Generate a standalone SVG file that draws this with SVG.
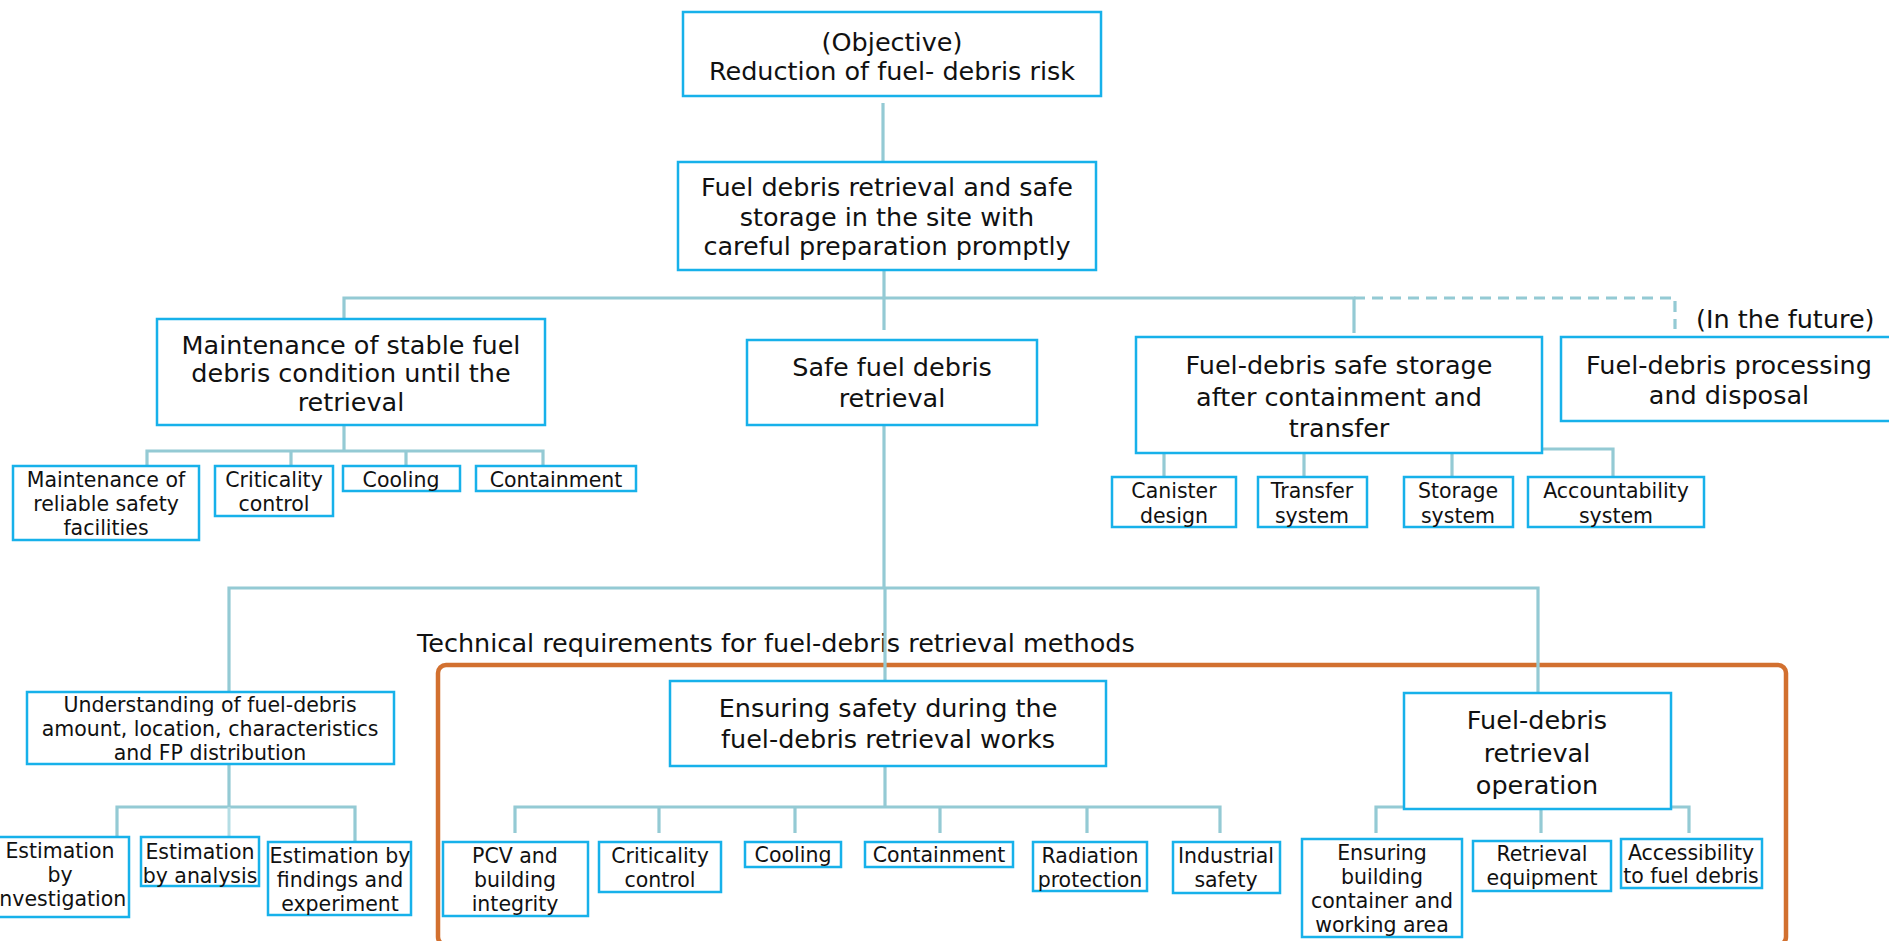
<svg xmlns="http://www.w3.org/2000/svg" width="1889" height="941" viewBox="0 0 1889 941">
  <style>
    .box { fill: #ffffff; stroke: #17b1ea; stroke-width: 2.5; }
    .t { font-family: "DejaVu Sans", Verdana, sans-serif; fill: #111111; text-anchor: middle; }
    .big { font-size: 25.5px; }
    .sm { font-size: 20.5px; }
    .ln { fill: none; stroke: #94cad4; stroke-width: 3.2; }
    .ln2 { fill: none; stroke: #b4dde4; stroke-width: 3; }
    .dash { fill: none; stroke: #94cad4; stroke-width: 3.2; stroke-dasharray: 11 7; }
    .frame { fill: none; stroke: #d2702f; stroke-width: 4.5; }
  </style>

  <!-- technical requirements frame -->
  <rect class="frame" x="438" y="665" width="1348" height="280" rx="8"/>
  <text class="t big" x="417" y="652" style="text-anchor:start">Technical requirements for fuel-debris retrieval methods</text>

  <!-- connectors -->
  <g id="connectors">
    <path class="ln" d="M883 103 V162"/>
    <path class="ln" d="M884 270 V330"/>
    <path class="ln" d="M344 319 V298 H1354 V333"/>
    <path class="dash" d="M1354 298 H1675 V329"/>
    <!-- stable condition branch -->
    <path class="ln" d="M344 425 V451"/>
    <path class="ln" d="M147 466 V451 H543 V466"/>
    <path class="ln" d="M291 451 V466 M406 451 V466"/>
    <!-- storage branch -->
    <path class="ln" d="M1164 453 V477 M1304 453 V477 M1452 453 V477"/>
    <path class="ln" d="M1542 449 H1613 V477"/>
    <!-- retrieval branch -->
    <path class="ln" d="M884 425 V588"/>
    <path class="ln" d="M885 588 V681"/>
    <path class="ln" d="M229 692 V588 H1538 V693"/>
    <!-- understanding branch -->
    <path class="ln" d="M229 764 V807"/>
    <path class="ln" d="M117 837 V807 H355 V842"/>
    <path class="ln2" d="M229 807 V837"/>
    <!-- safety branch -->
    <path class="ln" d="M885 766 V807"/>
    <path class="ln" d="M515 833 V807 H1220 V833"/>
    <path class="ln" d="M659 807 V833 M795 807 V833 M940 807 V833 M1087 807 V833"/>
    <!-- operation branch -->
    <path class="ln" d="M1376 833 V807 H1689 V833"/>
    <path class="ln" d="M1541 807 V833"/>
  </g>

  <g id="objective">
    <rect class="box" x="683" y="12" width="418" height="84"/>
    <text class="t big" x="892" y="51">(Objective)</text>
    <text class="t big" x="892" y="80">Reduction of fuel- debris risk</text>
  </g>

  <g id="retrieval-and-storage">
    <rect class="box" x="678" y="162" width="418" height="108"/>
    <text class="t big" x="887" y="196">Fuel debris retrieval and safe</text>
    <text class="t big" x="887" y="226">storage in the site with</text>
    <text class="t big" x="887" y="255">careful preparation promptly</text>
  </g>

  <g id="stable-condition">
    <rect class="box" x="157" y="319" width="388" height="106"/>
    <text class="t big" x="351" y="354">Maintenance of stable fuel</text>
    <text class="t big" x="351" y="382">debris condition until the</text>
    <text class="t big" x="351" y="411">retrieval</text>
  </g>

  <g id="safe-retrieval">
    <rect class="box" x="747" y="340" width="290" height="85"/>
    <text class="t big" x="892" y="376">Safe fuel debris</text>
    <text class="t big" x="892" y="407">retrieval</text>
  </g>

  <g id="safe-storage">
    <rect class="box" x="1136" y="337" width="406" height="116"/>
    <text class="t big" x="1339" y="374">Fuel-debris safe storage</text>
    <text class="t big" x="1339" y="406">after containment and</text>
    <text class="t big" x="1339" y="437">transfer</text>
  </g>

  <g id="processing">
    <text class="t big" x="1696" y="328" style="text-anchor:start">(In the future)</text>
    <rect class="box" x="1561" y="337" width="336" height="84"/>
    <text class="t big" x="1729" y="374">Fuel-debris processing</text>
    <text class="t big" x="1729" y="404">and disposal</text>
  </g>

  <!-- children of the stable-condition node -->
  <g id="reliable-facilities">
    <rect class="box" x="13" y="466" width="186" height="74"/>
    <text class="t sm" x="106" y="487">Maintenance of</text>
    <text class="t sm" x="106" y="511">reliable safety</text>
    <text class="t sm" x="106" y="535">facilities</text>
  </g>
  <g id="criticality-1">
    <rect class="box" x="215" y="466" width="118" height="50"/>
    <text class="t sm" x="274" y="487">Criticality</text>
    <text class="t sm" x="274" y="511">control</text>
  </g>
  <g id="cooling-1">
    <rect class="box" x="343" y="466" width="117" height="25"/>
    <text class="t sm" x="401" y="487">Cooling</text>
  </g>
  <g id="containment-1">
    <rect class="box" x="476" y="466" width="160" height="25"/>
    <text class="t sm" x="556" y="487">Containment</text>
  </g>

  <!-- children of the storage node -->
  <g id="canister">
    <rect class="box" x="1112" y="477" width="124" height="50"/>
    <text class="t sm" x="1174" y="498">Canister</text>
    <text class="t sm" x="1174" y="523">design</text>
  </g>
  <g id="transfer">
    <rect class="box" x="1258" y="477" width="109" height="50"/>
    <text class="t sm" x="1312" y="498">Transfer</text>
    <text class="t sm" x="1312" y="523">system</text>
  </g>
  <g id="storage">
    <rect class="box" x="1404" y="477" width="109" height="50"/>
    <text class="t sm" x="1458" y="498">Storage</text>
    <text class="t sm" x="1458" y="523">system</text>
  </g>
  <g id="accountability">
    <rect class="box" x="1528" y="477" width="176" height="50"/>
    <text class="t sm" x="1616" y="498">Accountability</text>
    <text class="t sm" x="1616" y="523">system</text>
  </g>

  <!-- understanding branch -->
  <g id="understanding">
    <rect class="box" x="27" y="692" width="367" height="72"/>
    <text class="t sm" x="210" y="712">Understanding of fuel-debris</text>
    <text class="t sm" x="210" y="736">amount, location, characteristics</text>
    <text class="t sm" x="210" y="760">and FP distribution</text>
  </g>
  <g id="est-investigation">
    <rect class="box" x="-9" y="837" width="138" height="80"/>
    <text class="t sm" x="60" y="858">Estimation</text>
    <text class="t sm" x="60" y="882">by</text>
    <text class="t sm" x="60" y="906">investigation</text>
  </g>
  <g id="est-analysis">
    <rect class="box" x="141" y="837" width="118" height="49"/>
    <text class="t sm" x="200" y="859">Estimation</text>
    <text class="t sm" x="200" y="883">by analysis</text>
  </g>
  <g id="est-findings">
    <rect class="box" x="268" y="842" width="143" height="73"/>
    <text class="t sm" x="340" y="863">Estimation by</text>
    <text class="t sm" x="340" y="887">findings and</text>
    <text class="t sm" x="340" y="911">experiment</text>
  </g>

  <!-- safety branch -->
  <g id="ensuring-safety">
    <rect class="box" x="670" y="681" width="436" height="85"/>
    <text class="t big" x="888" y="717">Ensuring safety during the</text>
    <text class="t big" x="888" y="748">fuel-debris retrieval works</text>
  </g>
  <g id="pcv">
    <rect class="box" x="443" y="842" width="145" height="74"/>
    <text class="t sm" x="515" y="863">PCV and</text>
    <text class="t sm" x="515" y="887">building</text>
    <text class="t sm" x="515" y="911">integrity</text>
  </g>
  <g id="criticality-2">
    <rect class="box" x="599" y="842" width="122" height="50"/>
    <text class="t sm" x="660" y="863">Criticality</text>
    <text class="t sm" x="660" y="887">control</text>
  </g>
  <g id="cooling-2">
    <rect class="box" x="745" y="842" width="96" height="25"/>
    <text class="t sm" x="793" y="862">Cooling</text>
  </g>
  <g id="containment-2">
    <rect class="box" x="865" y="842" width="148" height="25"/>
    <text class="t sm" x="939" y="862">Containment</text>
  </g>
  <g id="radiation">
    <rect class="box" x="1033" y="842" width="114" height="49"/>
    <text class="t sm" x="1090" y="863">Radiation</text>
    <text class="t sm" x="1090" y="887">protection</text>
  </g>
  <g id="industrial">
    <rect class="box" x="1173" y="842" width="107" height="51"/>
    <text class="t sm" x="1226" y="863">Industrial</text>
    <text class="t sm" x="1226" y="887">safety</text>
  </g>

  <!-- operation branch -->
  <g id="operation">
    <rect class="box" x="1404" y="693" width="267" height="116"/>
    <text class="t big" x="1537" y="729">Fuel-debris</text>
    <text class="t big" x="1537" y="762">retrieval</text>
    <text class="t big" x="1537" y="794">operation</text>
  </g>
  <g id="working-area">
    <rect class="box" x="1302" y="839" width="160" height="98"/>
    <text class="t sm" x="1382" y="860">Ensuring</text>
    <text class="t sm" x="1382" y="884">building</text>
    <text class="t sm" x="1382" y="908">container and</text>
    <text class="t sm" x="1382" y="932">working area</text>
  </g>
  <g id="equipment">
    <rect class="box" x="1473" y="841" width="138" height="50"/>
    <text class="t sm" x="1542" y="861">Retrieval</text>
    <text class="t sm" x="1542" y="885">equipment</text>
  </g>
  <g id="accessibility">
    <rect class="box" x="1621" y="839" width="141" height="49"/>
    <text class="t sm" x="1691" y="860">Accessibility</text>
    <text class="t sm" x="1691" y="883">to fuel debris</text>
  </g>
</svg>
